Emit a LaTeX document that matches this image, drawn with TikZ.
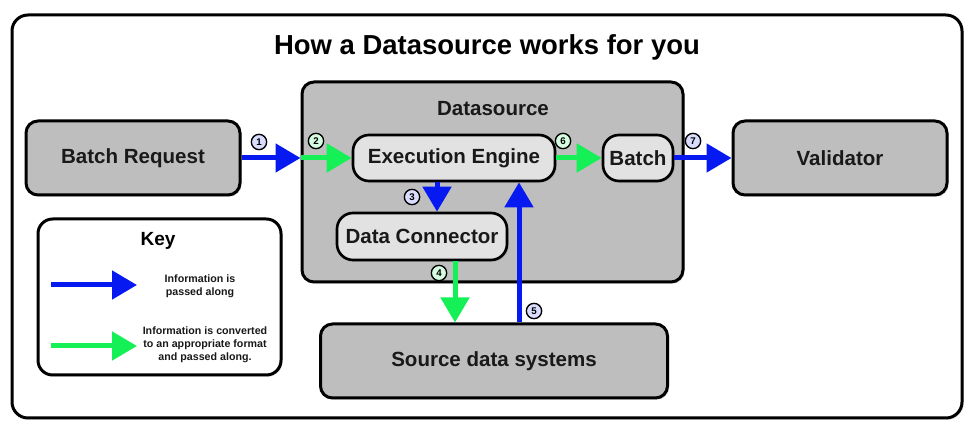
\documentclass[tikz,border=0pt]{standalone}
\usepackage{fontspec}
\setmainfont{Liberation Sans}
\usetikzlibrary{arrows.meta,shadows}

\begin{document}
\begin{tikzpicture}
		[x=0.75pt,y=-0.75pt,line cap=round,
		%Styles
		frame/.style={draw=black,line width=2.25pt,rounded corners=12pt,fill=white,
			drop shadow={shadow xshift=1.2pt,shadow yshift=-1.2pt,opacity=0.3}},
		gray box/.style={draw=black,line width=2.25pt,rounded corners=9pt,fill=boxgray,
			drop shadow={shadow xshift=1.2pt,shadow yshift=-1.2pt,opacity=0.3},
			font=\bfseries\fontsize{15.4}{18}\selectfont,text=black!90},
		light box/.style={gray box,fill=boxlight,line width=2pt,rounded corners=12pt},
		pass arrow/.style={draw=passcolor,line width=3.75pt,line cap=butt,
			-{Triangle[length=18.75pt,width=21pt]}},
		convert arrow/.style={pass arrow,draw=convcolor},
		num label/.style={circle,draw=black,line width=1pt,inner sep=0pt,minimum size=11.5pt,
			font=\bfseries\fontsize{7.3}{7.3}\selectfont,fill=#1},
		small text/.style={align=center,font=\bfseries\fontsize{8}{9.75}\selectfont,text=black!90}
		]
		
		%Colors
		\definecolor{passcolor}{RGB}{5,25,240}		%information passed along
		\definecolor{convcolor}{RGB}{20,240,85}		%information converted
		\definecolor{boxgray}{RGB}{190,190,190}
		\definecolor{boxlight}{RGB}{226,226,226}
		\colorlet{passnum}{passcolor!15}
		\colorlet{convnum}{convcolor!18}
		
		\useasboundingbox (0,0) rectangle (971,434);
		
		%The graphic
		\draw[frame] (12,15) rectangle (962,418);
		\node[font=\bfseries\fontsize{20.6}{24}\selectfont] (title) at (487,47) {How a Datasource works for you};
		
		\node[gray box,minimum width=214*0.75pt,minimum height=74*0.75pt] (batchreq) at (133,158) {Batch Request};
		\node[gray box,minimum width=381*0.75pt,minimum height=200*0.75pt] (datasource) at (492.5,182) {};
		\node[font=\bfseries\fontsize{15.4}{18}\selectfont,text=black!90] (dslabel) at (493,109) {Datasource};
		\node[light box,minimum width=202*0.75pt,minimum height=46*0.75pt] (engine) at (454,158) {Execution Engine};
		\node[light box,minimum width=70*0.75pt,minimum height=46*0.75pt] (batch) at (638,158) {Batch};
		\node[light box,minimum width=170*0.75pt,minimum height=47*0.75pt] (connector) at (422,236.5) {Data Connector};
		\node[gray box,minimum width=214*0.75pt,minimum height=74*0.75pt] (validator) at (840,158) {Validator};
		\node[gray box,minimum width=347*0.75pt,minimum height=74*0.75pt] (source) at (494,361) {Source data systems};
		
		%Key
		\node[gray box,fill=white,minimum width=243*0.75pt,minimum height=156*0.75pt,rounded corners=11pt] (key) at (159.5,297) {};
		\node[font=\bfseries\fontsize{14.3}{16}\selectfont] (keytitle) at (158,241) {Key};
		\coordinate (passa) at (51,285);
		\coordinate (passb) at (137,285);
		\coordinate (conva) at (51,346);
		\coordinate (convb) at (137,346);
		\draw[pass arrow] (passa) -- (passb);
		\draw[convert arrow] (conva) -- (convb);
		\node[small text] (passtext) at (200,286) {Information is\\passed along};
		\node[small text] (convtext) at (205,345) {Information is converted\\to an appropriate format\\and passed along.};
		
		%Flow
		\draw[pass arrow] (batchreq.east) -- (datasource.west |- batchreq.east);
		\draw[convert arrow] (datasource.west |- engine.west) -- (engine.west);
		\draw[pass arrow] (engine.south -| 437,0) -- (connector.north -| 437,0);
		\draw[convert arrow] (connector.south -| 455,0) -- (source.north -| 455,0);
		\draw[pass arrow] (source.north -| 519,0) -- (engine.south -| 519,0);
		\draw[convert arrow] (engine.east) -- (batch.west);
		\draw[pass arrow] (batch.east) -- (validator.west);
		
		\node[num label=passnum] (n1) at (259,142) {1};
		\node[num label=convnum] (n2) at (316,141) {2};
		\node[num label=passnum] (n3) at (412,197) {3};
		\node[num label=convnum] (n4) at (439,273) {4};
		\node[num label=passnum] (n5) at (534,311) {5};
		\node[num label=convnum] (n6) at (563,141) {6};
		\node[num label=passnum] (n7) at (693,141) {7};
	\end{tikzpicture}
\end{document}
